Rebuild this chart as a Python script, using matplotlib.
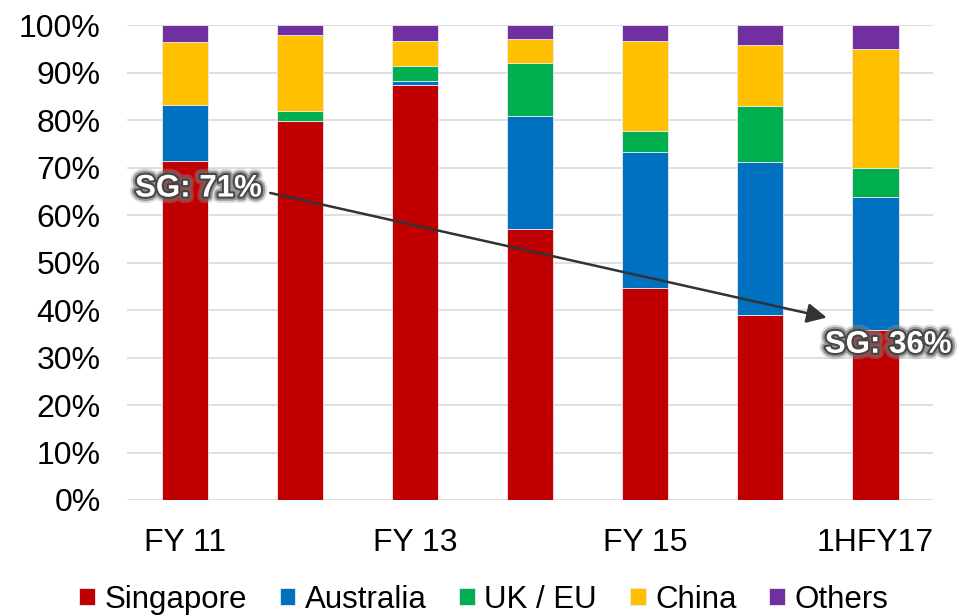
import numpy as np
import matplotlib.pyplot as plt
import matplotlib.patheffects as pe

plt.rcParams['font.family'] = ['Liberation Sans', 'DejaVu Sans']

# share of revenue by region, percent
periods = ['FY 11', 'FY 12', 'FY 13', 'FY 14', 'FY 15', 'FY 16', '1HFY17']
tick_labels = ['FY 11', '', 'FY 13', '', 'FY 15', '', '1HFY17']
singapore = [71.4, 79.8, 87.4, 57.1, 44.6, 38.9, 35.9]
australia = [11.8, 0.0, 0.8, 23.8, 28.7, 32.2, 28.0]
uk_eu = [0.0, 2.1, 3.2, 11.2, 4.4, 11.9, 6.1]
china = [13.3, 16.1, 5.3, 5.0, 19.0, 12.9, 25.0]
others = [3.5, 2.0, 3.3, 2.9, 3.3, 4.1, 5.0]

series = [('Singapore', singapore, '#C00000'),
          ('Australia', australia, '#0070C0'),
          ('UK / EU', uk_eu, '#00B050'),
          ('China', china, '#FFC000'),
          ('Others', others, '#7030A0')]

fig = plt.figure(figsize=(9.58, 6.15), dpi=100)
ax = fig.add_axes([0.1326, 0.187, 0.8414, 0.772])

x = np.arange(len(periods))
bottom = np.zeros(len(periods))
for name, vals, col in series:
    vals = np.array(vals)
    ax.bar(x, vals, 0.4, bottom=bottom, color=col, label=name,
           edgecolor='#f0e6ee', linewidth=0.6, zorder=3)
    bottom += vals

ax.set_xlim(-0.5, 6.5)
ax.set_ylim(0, 100)
ax.set_yticks(np.arange(0, 101, 10))
ax.set_yticklabels([f'{v}%' for v in range(0, 101, 10)])
ax.set_xticks(x)
ax.set_xticklabels(tick_labels)
ax.tick_params(axis='y', length=0, pad=19, labelsize=23)
ax.tick_params(axis='x', length=0, pad=20, labelsize=23)
ax.grid(axis='y', color='#D9D9D9', linewidth=1.2, zorder=0)
for s in ax.spines.values():
    s.set_visible(False)

# trend arrow
ax.annotate('', xy=(5.6, 38.3), xytext=(0.72, 64.8),
            arrowprops=dict(arrowstyle='-|>', color='#333333', lw=1.8,
                            mutation_scale=30), zorder=5)

# soft dark glow behind the white labels
glow = [pe.Stroke(linewidth=9, foreground='#9a9a9a', alpha=0.35),
        pe.Stroke(linewidth=6, foreground='#6a6a6a', alpha=0.6),
        pe.Stroke(linewidth=3, foreground='#404040', alpha=0.9),
        pe.Normal()]
ax.text(0.12, 65.6, 'SG: 71%', color='white', fontsize=22.5, fontweight='bold',
        ha='center', va='center', path_effects=glow, zorder=6)
ax.text(6.11, 32.7, 'SG: 36%', color='white', fontsize=22.5, fontweight='bold',
        ha='center', va='center', path_effects=glow, zorder=6)

fig.legend(loc='center', bbox_to_anchor=(0.505, 0.025), ncol=5, frameon=False,
           fontsize=22.5, handlelength=0.5, handleheight=0.5, handletextpad=0.3,
           columnspacing=1.05)

fig.savefig('out.png', dpi=100)
